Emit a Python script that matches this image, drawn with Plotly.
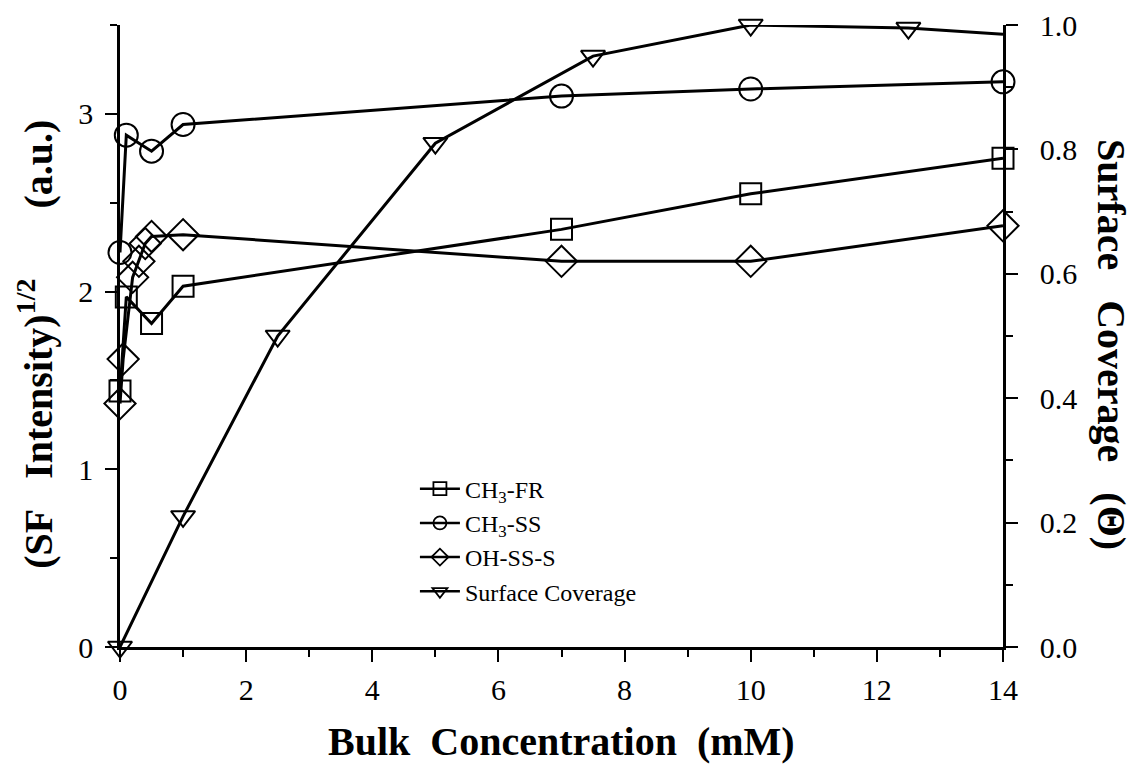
import plotly.graph_objects as go

# ---- data ----
fr_x = [0, 0.1, 0.5, 1, 7, 10, 14]
fr_y = [1.44, 1.97, 1.82, 2.03, 2.35, 2.55, 2.75]

ss_x = [0, 0.1, 0.5, 1, 7, 10, 14]
ss_y = [2.22, 2.88, 2.79, 2.94, 3.10, 3.14, 3.18]

oh_x = [0, 0.05, 0.2, 0.3, 0.4, 0.5, 1, 7, 10, 14]
oh_y = [1.37, 1.62, 2.08, 2.17, 2.27, 2.31, 2.32, 2.17, 2.17, 2.37]

cov_x = [0, 1, 2.5, 5, 7.5, 10, 12.5, 14]
cov_y = [0.0, 0.21, 0.50, 0.81, 0.95, 1.00, 0.995, 0.985]
cov_marked = [True, True, True, True, True, True, True, False]

x_ticks = [0, 2, 4, 6, 8, 10, 12, 14]
y1_ticks = [0, 1, 2, 3]
y2_ticks = [0.0, 0.2, 0.4, 0.6, 0.8, 1.0]

names = ["CH<sub>3</sub>-FR", "CH<sub>3</sub>-SS", "OH-SS-S", "Surface Coverage"]
symbols = ["square-open", "circle-open", "diamond-open", "triangle-down-open"]

FONT = "Liberation Serif, Times New Roman, Tinos, DejaVu Serif, serif"
BLACK = "#000000"
NB = "\u00a0"

fig = go.Figure()

def add_series(x, y, sym, size, axis="y"):
    fig.add_trace(go.Scatter(
        x=x, y=y, mode="lines+markers", yaxis=axis, showlegend=False,
        line=dict(color=BLACK, width=3),
        marker=dict(symbol=sym, size=size, color=BLACK,
                    line=dict(width=2, color=BLACK)),
        cliponaxis=False,
    ))

add_series(fr_x, fr_y, symbols[0], 21)
add_series(ss_x, ss_y, symbols[1], 23)
add_series(oh_x, oh_y, symbols[2], 24)

# coverage: line through all points, markers only where drawn in the original
fig.add_trace(go.Scatter(
    x=cov_x, y=cov_y, mode="lines", yaxis="y2", showlegend=False,
    line=dict(color=BLACK, width=3), cliponaxis=False,
))
fig.add_trace(go.Scatter(
    x=[x for x, m in zip(cov_x, cov_marked) if m],
    y=[y for y, m in zip(cov_y, cov_marked) if m],
    mode="markers", yaxis="y2", showlegend=False,
    marker=dict(symbol=symbols[3], size=21, color=BLACK, line=dict(width=2, color=BLACK)),
    cliponaxis=False,
))

# legend-only entries with smaller symbols
for nm, sym in zip(names, symbols):
    fig.add_trace(go.Scatter(
        x=[None], y=[None], mode="lines+markers", name=nm,
        line=dict(color=BLACK, width=2.5),
        marker=dict(symbol=sym, size=13, color=BLACK, line=dict(width=1.8, color=BLACK)),
    ))

axis_common = dict(
    showgrid=False, zeroline=False, showline=True, linecolor=BLACK, linewidth=2.5,
    ticks="outside", ticklen=12, tickwidth=2, tickcolor=BLACK,
    tickfont=dict(family=FONT, size=30, color=BLACK),
)
minor_common = dict(ticks="outside", ticklen=7, tickwidth=2, tickcolor=BLACK)

W, H = 1128, 757
L, T = 112, 17
PR, PB = 995, 639  # plot right / bottom in figure coords

fig.update_layout(
    width=W, height=H,
    margin=dict(l=L, r=W - PR, t=T, b=H - PB, autoexpand=False),
    paper_bgcolor="white", plot_bgcolor="white",
    font=dict(family=FONT, color=BLACK),
    xaxis=dict(range=[0, 14], tickvals=x_ticks, ticklabelstandoff=2,
               minor=dict(dtick=1, **minor_common), **axis_common),
    yaxis=dict(range=[0, 3.5], tickvals=y1_ticks, ticklabelstandoff=6,
               minor=dict(dtick=0.5, **minor_common), **axis_common),
    yaxis2=dict(range=[0, 1.0], tickvals=y2_ticks, tickformat=".1f",
                overlaying="y", side="right", ticklabelstandoff=16,
                minor=dict(dtick=0.1, **minor_common), **axis_common),
    legend=dict(x=0.334, y=0.29, xanchor="left", yanchor="top",
                bgcolor="rgba(0,0,0,0)", font=dict(family=FONT, size=24, color=BLACK),
                tracegroupgap=0, itemwidth=40),
    showlegend=True,
)

fig.add_annotation(text=f"<b>Bulk{NB*2}Concentration{NB*2}(mM)</b>",
                   xref="paper", yref="paper", x=0.5, y=-0.152, yanchor="middle",
                   showarrow=False, font=dict(family=FONT, size=40, color=BLACK))
fig.add_annotation(text=f"<b>(SF{NB*3}Intensity)<sup>1/2</sup>{NB*7}(a.u.)</b>",
                   xref="paper", yref="paper", x=-0.095, y=0.486, xanchor="center", yanchor="middle",
                   textangle=-90, showarrow=False, font=dict(family=FONT, size=40, color=BLACK))
fig.add_annotation(text=f"<b>Surface{NB*3}Coverage{NB*3}(\u0398)</b>",
                   xref="paper", yref="paper", x=1.123, y=0.486, xanchor="center", yanchor="middle",
                   textangle=90, showarrow=False, font=dict(family=FONT, size=40, color=BLACK))

fig.write_html("out.html")
